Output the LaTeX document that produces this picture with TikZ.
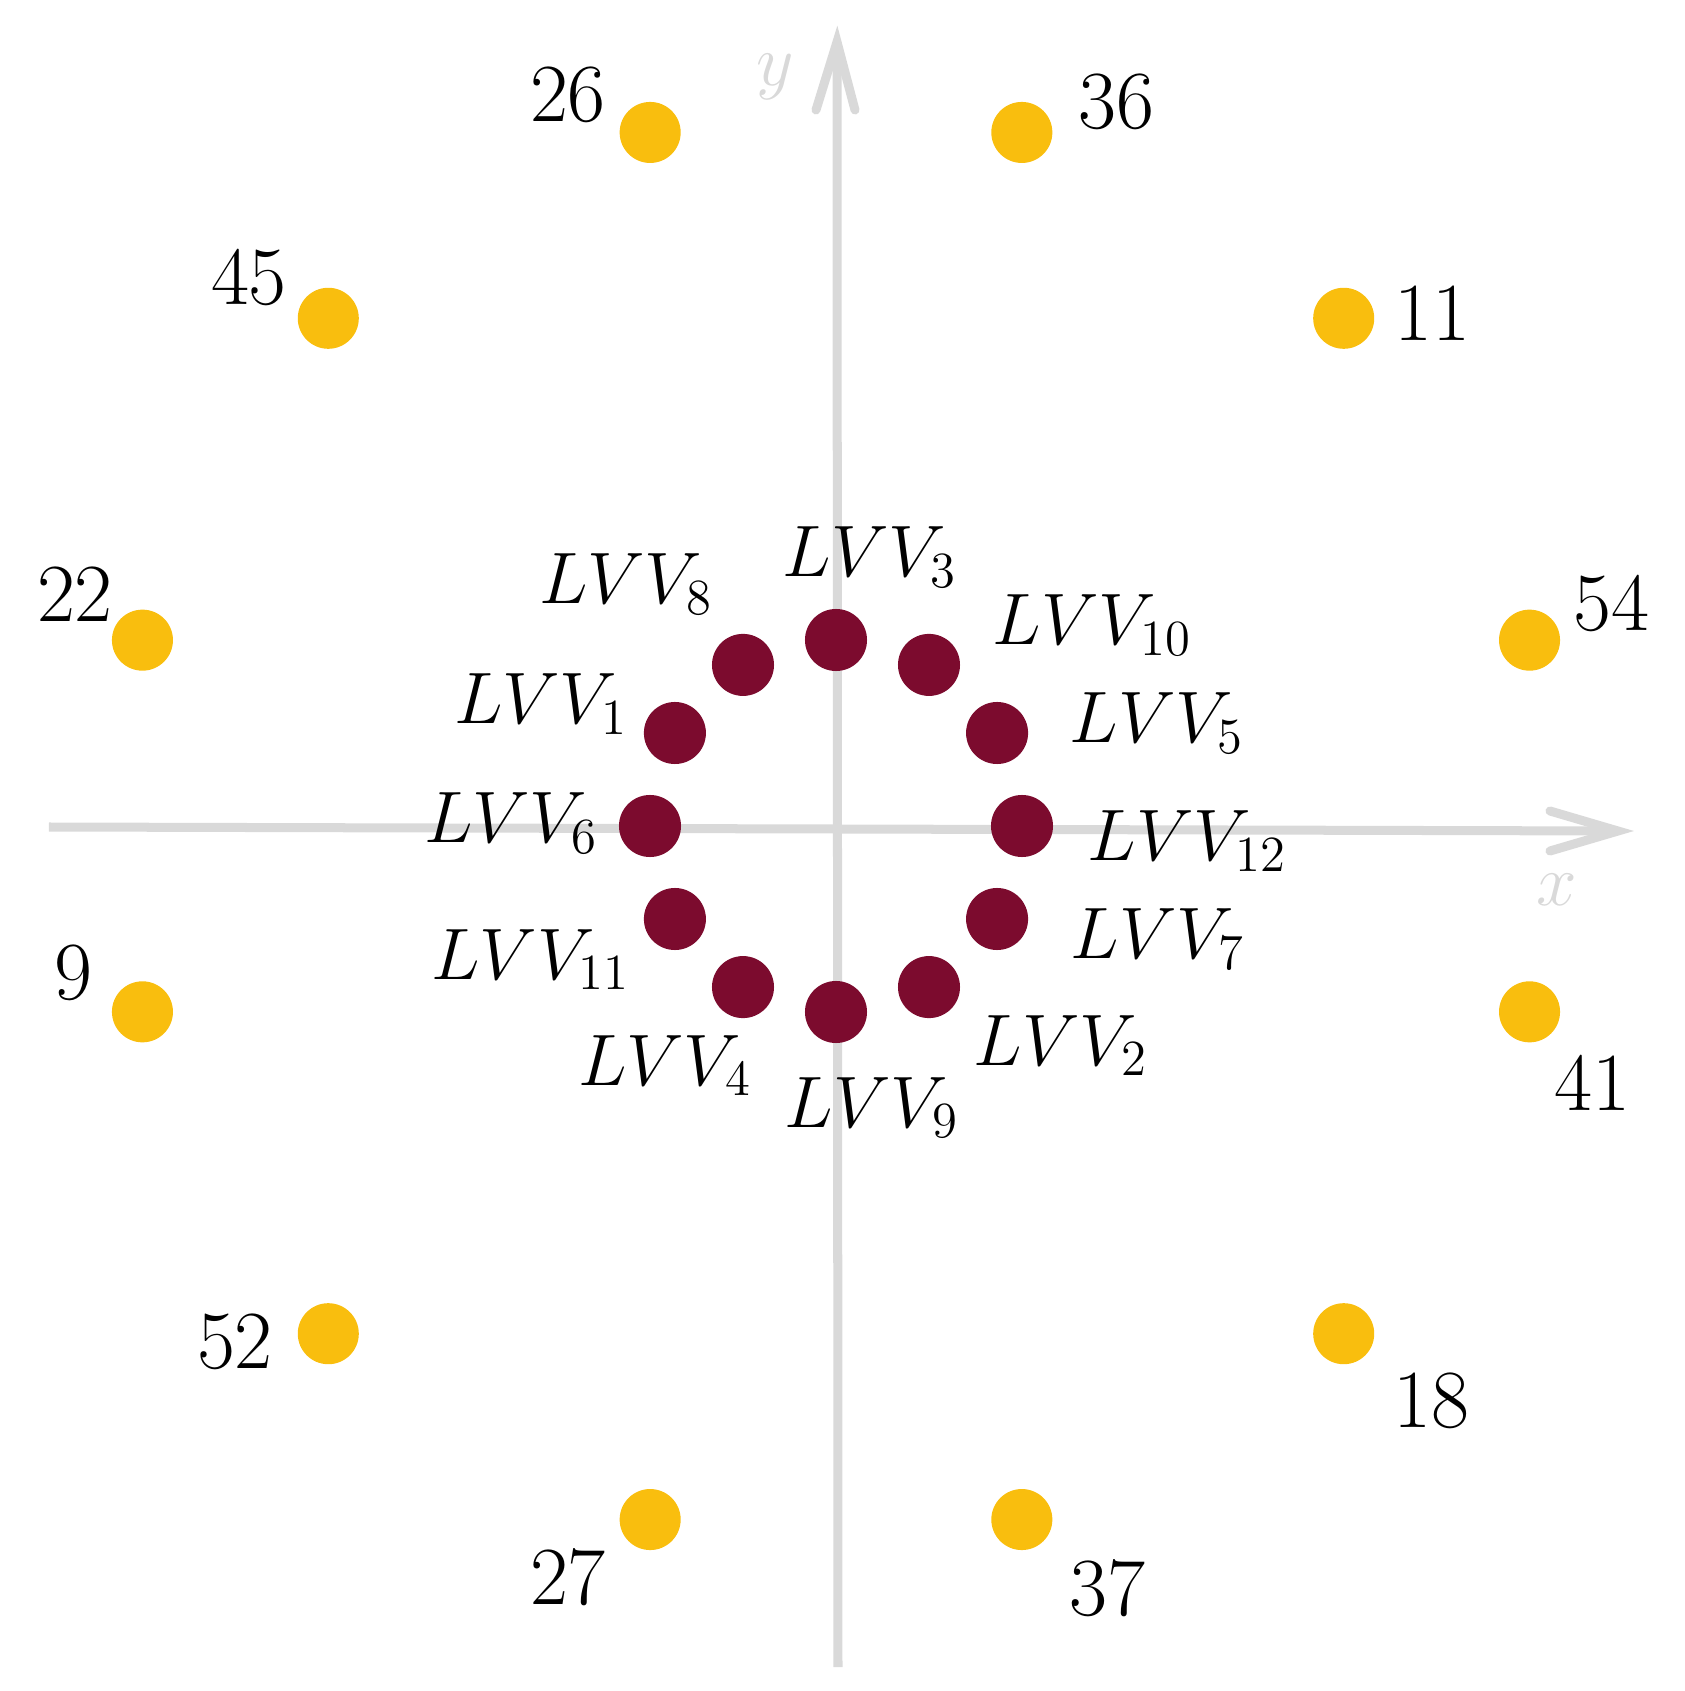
\documentclass[tikz,border=0pt]{standalone}
\definecolor{axisgray}{HTML}{D9D9D9}
\definecolor{dotyellow}{HTML}{F9BE0E}
\definecolor{dotmaroon}{HTML}{7C0B2E}
\begin{document}
\begin{tikzpicture}[x=0.01cm,y=0.01cm,
  axisline/.style={draw=axisgray, line width=0.09cm},
  axishead/.style={draw=axisgray, line width=0.09cm, line cap=round, line join=miter},
  ydot/.style={circle, fill=dotyellow, minimum size=0.61cm, inner sep=0pt},
  mdot/.style={circle, fill=dotmaroon, minimum size=0.62cm, inner sep=0pt},
  lbl/.style={inner sep=0pt, font=\fontsize{21.5}{26}\selectfont},
  numlbl/.style={inner sep=0pt, font=\fontsize{23.5}{28}\selectfont},
  axlbl/.style={inner sep=0pt, text=axisgray, font=\fontsize{21.5}{26}\selectfont}]
\useasboundingbox (-836,-865) rectangle (848,826);
% axes
\coordinate (xs) at (-787,-1);
\coordinate (xe) at (782,-5);
\coordinate (ys) at (2,-841);
\coordinate (ye) at (1,784);
\draw[axisline] (xs) -- (xe);
\draw[axisline] (ys) -- (ye);
\draw[axishead] (714,15) -- (xe) -- (714,-25);
\draw[axishead] (-20,716) -- (ye) -- (19,716);
\node[axlbl] (xl) at (721,-64) {$x$};
\node[axlbl] (yl) at (-61,749) {$y$};
% maroon dots
\foreach \n/\a in {12/0, 5/30, 10/60, 3/90, 8/120, 1/150, 6/180, 11/210, 4/240, 9/270, 2/300, 7/330}
  \node[mdot] (m\n) at (\a:186) {};
% yellow dots
\foreach \n/\a in {54/15, 11/45, 36/75, 26/105, 45/135, 22/165, 9/195, 52/225, 27/255, 37/285, 18/315, 41/345}
  \node[ydot] (y\n) at (\a:718) {};
% number labels
\node[numlbl] (n26) at (-268,731) {26};
\node[numlbl] (n36) at (280,724) {36};
\node[numlbl] (n45) at (-587,548) {45};
\node[numlbl] (n11) at (596,513) {11};
\node[numlbl] (n22) at (-761,232) {22};
\node[numlbl] (n54) at (775,222) {54};
\node[numlbl] (n9) at (-763,-147) {9};
\node[numlbl] (n41) at (756,-257) {41};
\node[numlbl] (n52) at (-601,-516) {52};
\node[numlbl] (n18) at (595,-575) {18};
\node[numlbl] (n27) at (-268,-751) {27};
\node[numlbl] (n37) at (271,-762) {37};
% LVV labels
\node[lbl, anchor=base west] (l3) at (-54,249) {$LVV_{3}$};
\node[lbl, anchor=base west] (l10) at (156,181) {$LVV_{10}$};
\node[lbl, anchor=base west] (l5) at (233,83) {$LVV_{5}$};
\node[lbl, anchor=base west] (l12) at (251,-35) {$LVV_{12}$};
\node[lbl, anchor=base west] (l7) at (234,-133) {$LVV_{7}$};
\node[lbl, anchor=base west] (l2) at (137,-239) {$LVV_{2}$};
\node[lbl, anchor=base west] (l9) at (-52,-301) {$LVV_{9}$};
\node[lbl, anchor=base east] (l8) at (-122,222) {$LVV_{8}$};
\node[lbl, anchor=base east] (l1) at (-207,102) {$LVV_{1}$};
\node[lbl, anchor=base east] (l6) at (-237,-17) {$LVV_{6}$};
\node[lbl, anchor=base east] (l11) at (-205,-153) {$LVV_{11}$};
\node[lbl, anchor=base east] (l4) at (-83,-259) {$LVV_{4}$};
\end{tikzpicture}
\end{document}
